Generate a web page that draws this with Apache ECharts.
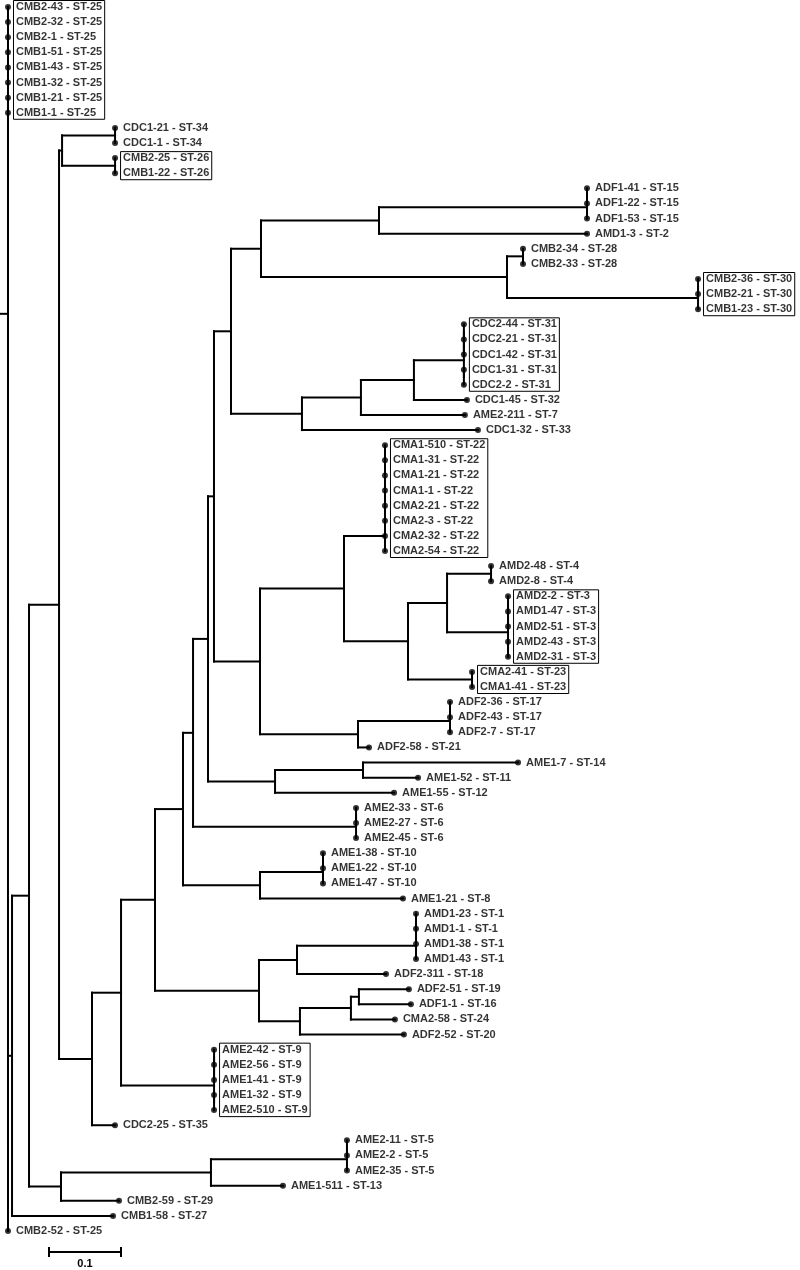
<!DOCTYPE html>
<html>
<head>
<meta charset="utf-8">
<script src="https://cdn.jsdelivr.net/npm/echarts@6/dist/echarts.min.js"></script>
<style>
html,body{margin:0;padding:0;background:#fff;}
#c{width:800px;height:1270px;}
</style>
</head>
<body>
<div id="c"></div>
<script>
// ---------------- DATA (branch lengths, scale 0.1) ----------------
const cladeST25top = "((((((CMB2-32 - ST-25:0,CMB2-1 - ST-25:0):0,CMB1-51 - ST-25:0):0,CMB1-43 - ST-25:0):0,CMB1-32 - ST-25:0):0,CMB1-21 - ST-25:0):0,CMB1-1 - ST-25:0)";
const cladeST34_26 = "((CDC1-21 - ST-34:0,CDC1-1 - ST-34:0):0.0736,(CMB2-25 - ST-26:0,CMB1-22 - ST-26:0):0.0736)";
const cladeST15_2 = "(((ADF1-41 - ST-15:0,ADF1-22 - ST-15:0):0,ADF1-53 - ST-15:0):0.2889,AMD1-3 - ST-2:0.2889)";
const cladeST28_30 = "((CMB2-34 - ST-28:0,CMB2-33 - ST-28:0):0.0222,((CMB2-36 - ST-30:0,CMB2-21 - ST-30:0):0,CMB1-23 - ST-30:0):0.2653)";
const cladeST31 = "(((CDC2-44 - ST-31:0,CDC2-21 - ST-31:0):0,CDC1-42 - ST-31:0):0,(CDC1-31 - ST-31:0,CDC2-2 - ST-31:0):0)";
const cladeST22 = "(((((((CMA1-510 - ST-22:0,CMA1-31 - ST-22:0):0,CMA1-21 - ST-22:0):0,CMA1-1 - ST-22:0):0,CMA2-21 - ST-22:0):0,CMA2-3 - ST-22:0):0,CMA2-32 - ST-22:0):0,CMA2-54 - ST-22:0)";
const cladeST3 = "(((AMD2-2 - ST-3:0,AMD1-47 - ST-3:0):0,AMD2-51 - ST-3:0):0,(AMD2-43 - ST-3:0,AMD2-31 - ST-3:0):0)";
const cladeST17_21 = "(((ADF2-36 - ST-17:0,ADF2-43 - ST-17:0):0,ADF2-7 - ST-17:0):0.1278,ADF2-58 - ST-21:0.0153)";
const cladeST14_11_12 = "((AME1-7 - ST-14:0.2153,AME1-52 - ST-11:0.0764):0.1222,AME1-55 - ST-12:0.1653)";
const cladeST6 = "((AME2-33 - ST-6:0,AME2-27 - ST-6:0):0,AME2-45 - ST-6:0)";
const cladeST10_8 = "(((AME1-38 - ST-10:0,AME1-22 - ST-10:0):0,AME1-47 - ST-10:0):0.0875,AME1-21 - ST-8:0.1986)";
const cladeST1 = "(((AMD1-23 - ST-1:0,AMD1-1 - ST-1:0):0,AMD1-38 - ST-1:0):0,AMD1-43 - ST-1:0)";
const cladeST19_16_24_20 = "(((ADF2-51 - ST-19:0.0694,ADF1-1 - ST-16:0.0722):0.0111,CMA2-58 - ST-24:0.0611):0.0708,ADF2-52 - ST-20:0.1444)";
const cladeST9 = "(((AME2-42 - ST-9:0,AME2-56 - ST-9:0):0,AME1-41 - ST-9:0):0,(AME1-32 - ST-9:0,AME2-510 - ST-9:0):0)";
const cladeST5_13_29 = "((((AME2-11 - ST-5:0,AME2-2 - ST-5:0):0,AME2-35 - ST-5:0):0.1889,AME1-511 - ST-13:0.1):0.2083,CMB2-59 - ST-29:0.0806)";

const boxedGroups = [
  ["CMB2-43 - ST-25", "CMB1-1 - ST-25"],
  ["CMB2-25 - ST-26", "CMB1-22 - ST-26"],
  ["CMB2-36 - ST-30", "CMB1-23 - ST-30"],
  ["CDC2-44 - ST-31", "CDC2-2 - ST-31"],
  ["CMA1-510 - ST-22", "CMA2-54 - ST-22"],
  ["AMD2-2 - ST-3", "AMD2-31 - ST-3"],
  ["CMA2-41 - ST-23", "CMA1-41 - ST-23"],
  ["AME2-42 - ST-9", "AME2-510 - ST-9"]
];
const scaleBarLength = 0.1;
const scaleBarLabel = "0.1";

// ---------------- assemble tree ----------------
const n414 = "(" + cladeST31 + ":0.0694,CDC1-45 - ST-32:0.0736)";
const n361 = "(" + n414 + ":0.0736,AME2-211 - ST-7:0.1444)";
const n302 = "(" + n361 + ":0.0819,CDC1-32 - ST-33:0.2444)";
const n261 = "(" + cladeST15_2 + ":0.1639," + cladeST28_30 + ":0.3417)";
const n231 = "(" + n261 + ":0.0417," + n302 + ":0.0986)";
const n447 = "((AMD2-48 - ST-4:0,AMD2-8 - ST-4:0):0.0611," + cladeST3 + ":0.0847)";
const n408 = "(" + n447 + ":0.0542,(CMA2-41 - ST-23:0,CMA1-41 - ST-23:0):0.0889)";
const n344 = "(" + cladeST22 + ":0.0569," + n408 + ":0.0889)";
const n260a = "(" + n344 + ":0.1167," + cladeST17_21 + ":0.1361)";
const n214 = "(" + n231 + ":0.0236," + n260a + ":0.0639)";
const n208 = "(" + n214 + ":0.0083," + cladeST14_11_12 + ":0.0931)";
const n193 = "(" + n208 + ":0.0208," + cladeST6 + ":0.2264)";
const n183 = "(" + n193 + ":0.0139," + cladeST10_8 + ":0.1069)";
const n297 = "(" + cladeST1 + ":0.1653,ADF2-311 - ST-18:0.1236)";
const n259 = "(" + n297 + ":0.0528," + cladeST19_16_24_20 + ":0.0569)";
const n155 = "(" + n183 + ":0.0389," + n259 + ":0.1444)";
const n121 = "(" + n155 + ":0.0472," + cladeST9 + ":0.1292)";
const n92 = "(" + n121 + ":0.0403,CDC2-25 - ST-35:0.0319)";
const n59 = "(" + cladeST34_26 + ":0.0042," + n92 + ":0.0458)";
const n29 = "(" + n59 + ":0.0417," + cladeST5_13_29 + ":0.0444)";
const n12 = "(" + n29 + ":0.0236,CMB1-58 - ST-27:0.1403)";
const treeNewick = "(CMB2-43 - ST-25:0,(" + cladeST25top + ":0,(" + n12 + ":0.0056,CMB2-52 - ST-25:0):0):0):0.0111;";

function parseNewick(s) {
  let i = 0;
  function node() {
    const n = { children: [], name: "", len: 0 };
    if (s[i] === "(") {
      i++;
      n.children.push(node());
      while (s[i] === ",") { i++; n.children.push(node()); }
      i++;
    }
    let name = "";
    while (i < s.length && "(),:;".indexOf(s[i]) < 0) name += s[i++];
    n.name = name.trim();
    if (s[i] === ":") {
      i++;
      let num = "";
      while (i < s.length && "(),;".indexOf(s[i]) < 0) num += s[i++];
      n.len = parseFloat(num);
    }
    return n;
  }
  return node();
}

const root = parseNewick(treeNewick);
let leafCount = 0;
const leaves = [];
function layout(n, depth) {
  n.x = depth + n.len;
  if (!n.children.length) { n.y = leafCount++; leaves.push(n); }
  else {
    n.children.forEach(c => layout(c, n.x));
    n.y = (n.children[0].y + n.children[n.children.length - 1].y) / 2;
  }
}
layout(root, 0);

const segs = [];
function collect(n, px) {
  if (n.len > 0) segs.push([px, n.y, n.x, n.y]);
  if (n.children.length) {
    segs.push([n.x, n.children[0].y, n.x, n.children[n.children.length - 1].y]);
    n.children.forEach(c => collect(c, n.x));
  }
}
collect(root, 0);

const FONT = 'bold 11px "Liberation Sans", Arial, sans-serif';
const ctx = document.createElement("canvas").getContext("2d");
ctx.font = FONT;
const leafByName = {};
leaves.forEach(l => leafByName[l.name] = l);
const boxData = boxedGroups.map(g => {
  const a = leafByName[g[0]], b = leafByName[g[1]];
  let w = 0;
  for (let k = a.y; k <= b.y; k++) w = Math.max(w, ctx.measureText(leaves[k].name).width);
  return [a.x, a.y, b.y, w];
});

const chart = echarts.init(document.getElementById("c"), null, { renderer: "canvas" });
chart.setOption({
  animation: false,
  backgroundColor: "#fff",
  grid: { left: 0, right: 0, top: 7, bottom: 39 },
  xAxis: { type: "value", min: 0, max: 800 / 720, show: false },
  yAxis: { type: "value", min: 0, max: leaves.length - 1, inverse: true, show: false },
  series: [
    {
      type: "custom", name: "branches", silent: true, clip: false,
      data: segs,
      renderItem: function (params, api) {
        const a = api.coord([api.value(0), api.value(1)]);
        const b = api.coord([api.value(2), api.value(3)]);
        return { type: "line", shape: { x1: a[0], y1: a[1], x2: b[0], y2: b[1] },
          style: { stroke: "#000", lineWidth: 2, lineCap: "square" } };
      }
    },
    {
      type: "custom", name: "boxes", silent: true, clip: false,
      data: boxData,
      renderItem: function (params, api) {
        const a = api.coord([api.value(0), api.value(1)]);
        const b = api.coord([api.value(0), api.value(2)]);
        const w = api.value(3);
        return { type: "rect", shape: { x: a[0] + 5.5, y: a[1] - 6.5, width: w + 5, height: b[1] - a[1] + 13 },
          style: { fill: "none", stroke: "#000", lineWidth: 1 } };
      }
    },
    {
      type: "scatter", name: "leaves", silent: true,
      symbol: "circle", symbolSize: 6,
      itemStyle: { color: "#000" },
      data: leaves.map(l => ({ name: l.name, value: [l.x, l.y] })),
      label: { show: true, position: "right", distance: 5, formatter: "{b}",
        color: "#000", fontSize: 11, fontWeight: "bold", fontFamily: '"Liberation Sans", Arial, sans-serif' }
    },
    {
      type: "custom", name: "scalebar", silent: true, clip: false,
      data: [[49 / 720, 49 / 720 + scaleBarLength, leaves.length - 1]],
      renderItem: function (params, api) {
        const a = api.coord([api.value(0), api.value(2)]);
        const b = api.coord([api.value(1), api.value(2)]);
        const y = a[1] + 21;
        return { type: "group", children: [
          { type: "line", shape: { x1: a[0], y1: y, x2: b[0], y2: y }, style: { stroke: "#000", lineWidth: 2 } },
          { type: "line", shape: { x1: a[0], y1: y - 5, x2: a[0], y2: y + 5 }, style: { stroke: "#000", lineWidth: 2 } },
          { type: "line", shape: { x1: b[0], y1: y - 5, x2: b[0], y2: y + 5 }, style: { stroke: "#000", lineWidth: 2 } },
          { type: "text", style: { x: (a[0] + b[0]) / 2, y: y + 12, text: scaleBarLabel, fill: "#000",
            font: FONT, textAlign: "center", textVerticalAlign: "middle" } }
        ] };
      }
    }
  ]
});
</script>
</body>
</html>
